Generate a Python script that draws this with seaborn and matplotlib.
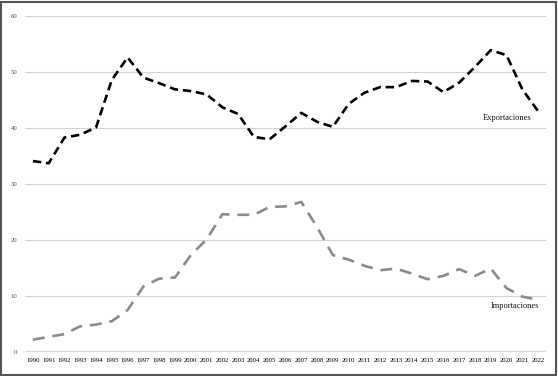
import matplotlib
matplotlib.use("Agg")
import matplotlib.pyplot as plt
import seaborn as sns
import pandas as pd
from matplotlib.patches import Rectangle

years = list(range(1990, 2023))
exportaciones = [34.1, 33.7, 38.3, 38.8, 40.1, 48.6, 52.6, 49.0, 48.0, 46.9,
                 46.6, 46.0, 43.7, 42.5, 38.4, 38.0, 40.3, 42.7, 41.1, 40.2,
                 44.3, 46.3, 47.3, 47.3, 48.4, 48.3, 46.4, 48.1, 50.9, 53.9,
                 53.0, 46.9, 43.0]
importaciones = [2.2, 2.7, 3.2, 4.6, 4.9, 5.5, 7.5, 11.7, 13.1, 13.3,
                 17.3, 20.1, 24.6, 24.5, 24.5, 25.9, 26.0, 26.8, 22.3, 17.3,
                 16.5, 15.4, 14.6, 14.9, 14.0, 13.0, 13.6, 14.8, 13.6, 14.9,
                 11.4, 9.9, 9.3]
y_ticks = [0, 10, 20, 30, 40, 50, 60]

df_exp = pd.DataFrame({"Año": years, "Valor": exportaciones})
df_imp = pd.DataFrame({"Año": years, "Valor": importaciones})

sns.set_theme(style="white")
plt.rcParams["font.family"] = ["Liberation Serif", "DejaVu Serif"]

fig = plt.figure(figsize=(5.58, 3.76), dpi=100)
ax = fig.add_axes([25/558, 24/376, 521/558, 336/376])

sns.lineplot(data=df_exp, x="Año", y="Valor", ax=ax, color="black",
             linewidth=1.9, linestyle=(0, (3.2, 1.8)))
sns.lineplot(data=df_imp, x="Año", y="Valor", ax=ax, color="#8c8c8c",
             linewidth=1.9, linestyle=(0, (4.5, 3.0)))

ax.set_xlim(1989.5, 2022.5)
ax.set_ylim(0, 60)
ax.set_yticks(y_ticks)
ax.set_xticks(years)
ax.set_xticklabels([str(y) for y in years])
ax.set_xlabel("")
ax.set_ylabel("")
for s in ax.spines.values():
    s.set_visible(False)
ax.grid(axis="y", color="#d4d4d4", linewidth=0.8)
ax.set_axisbelow(True)
ax.axhline(0, color="#dcdcdc", linewidth=2.5, zorder=0.5)
ax.tick_params(axis="x", labelsize=4.9, colors="#000000", pad=4, length=0)
ax.tick_params(axis="y", labelsize=4.9, colors="#555555", pad=5.5, length=0)

ax.text(2020.0, 41.8, "Exportaciones", fontsize=6, ha="center",
        va="center", color="#111111")
ax.text(2020.5, 8.3, "Importaciones", fontsize=6, ha="center",
        va="center", color="#111111")

fig.patches.append(Rectangle((0.002, 0.003), 0.995, 0.993, transform=fig.transFigure,
                             fill=False, edgecolor="#555555", linewidth=1.5))

fig.savefig("out.png", dpi=100)
